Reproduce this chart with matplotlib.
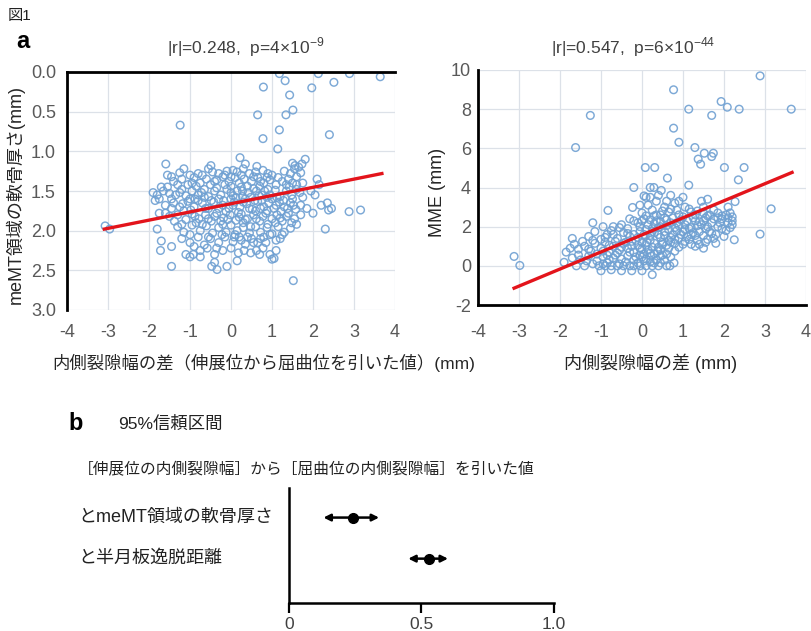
import matplotlib
matplotlib.use('Agg')
import matplotlib.pyplot as plt
import matplotlib.transforms as mtransforms
import numpy as np

plt.rcParams['font.family'] = ['Liberation Sans', 'Noto Sans CJK JP']
plt.rcParams['axes.unicode_minus'] = False
plt.rcParams['mathtext.fontset'] = 'custom'
plt.rcParams['mathtext.rm'] = 'Liberation Sans'

# --- data ---
# panel a-left: gap difference (mm) vs meMT cartilage thickness (mm)
thick_points = [
    # outliers
    (1.18, 0.02), (2.13, 0.02), (2.89, 0.02), (3.64, 0.06), (1.32, 0.11), (2.51, 0.13),
    (0.79, 0.19), (1.97, 0.20), (1.43, 0.29), (1.51, 0.48), (0.65, 0.54), (1.34, 0.54),
    (-1.24, 0.67), (1.18, 0.73), (2.40, 0.79), (0.78, 0.84), (1.14, 0.97), (1.52, 2.63),
    (-3.07, 1.94), (-2.96, 1.98), (2.88, 1.76), (3.16, 1.74), (2.30, 1.98), (2.38, 1.74),
    # top of cluster
    (-1.59, 1.16), (1.81, 1.10), (1.73, 1.16), (0.22, 1.08), (0.35, 1.16), (-0.49, 1.18),
    (0.63, 1.19), (1.56, 1.18),
    (-1.55, 1.30), (-1.25, 1.27), (-1.0, 1.30), (-0.8, 1.28), (-0.55, 1.22), (-0.45, 1.26),
    (-0.3, 1.28), (-0.1, 1.25), (0.05, 1.24), (0.15, 1.26), (0.3, 1.22), (0.45, 1.28),
    (0.6, 1.26), (0.78, 1.24), (0.9, 1.28), (1.3, 1.25), (1.45, 1.28), (1.55, 1.22),
    (1.65, 1.20), (1.7, 1.27), (1.5, 1.15), (1.6, 1.32),
    (-1.7, 1.45), (-1.4, 1.38), (-1.2, 1.35), (-1.05, 1.42), (-0.9, 1.33), (-0.75, 1.40),
    (-0.6, 1.35), (-0.5, 1.42), (-0.35, 1.36), (-0.2, 1.32), (-0.05, 1.38), (0.1, 1.33),
    (0.2, 1.40), (0.32, 1.35), (0.5, 1.38), (0.65, 1.33), (0.8, 1.40), (0.95, 1.36),
    (1.1, 1.42), (1.25, 1.38), (1.4, 1.35), (1.6, 1.42), (1.75, 1.40), (2.1, 1.35),
    (2.15, 1.42), (-1.3, 1.42), (-0.85, 1.44), (0.0, 1.44), (0.4, 1.44), (0.7, 1.44),
    (-1.9, 1.52), (-1.8, 1.55), (-1.65, 1.50), (-1.5, 1.53), (-1.35, 1.55), (-1.2, 1.48),
    (-1.1, 1.56), (-0.95, 1.50), (-0.8, 1.55), (-0.65, 1.48), (-0.55, 1.57), (-0.4, 1.50),
    (-0.25, 1.55), (-0.1, 1.48), (0.05, 1.56), (0.15, 1.50), (0.28, 1.57), (0.42, 1.52),
    (0.55, 1.47), (0.68, 1.56), (0.82, 1.50), (0.95, 1.55), (1.08, 1.49), (1.2, 1.57),
    (1.35, 1.50), (1.48, 1.55), (1.6, 1.48), (1.75, 1.58), (1.95, 1.50), (2.05, 1.55),
    (-1.75, 1.60), (-1.45, 1.60), (-0.3, 1.60), (0.35, 1.60),
    (-1.85, 1.62), (-1.6, 1.68), (-1.4, 1.65), (-1.25, 1.70), (-1.05, 1.63), (-0.9, 1.70),
    (-0.7, 1.65), (-0.55, 1.72), (-0.42, 1.64), (-0.2, 1.68), (-0.05, 1.72), (0.08, 1.64),
    (0.22, 1.70), (0.38, 1.66), (0.52, 1.73), (0.65, 1.63), (0.8, 1.70), (0.92, 1.65),
    (1.05, 1.72), (1.18, 1.64), (1.3, 1.70), (1.45, 1.65), (1.58, 1.73), (1.7, 1.68),
    (1.85, 1.72), (2.2, 1.68), (2.35, 1.65), (2.45, 1.72), (-1.15, 1.75), (0.0, 1.60),
    (0.6, 1.75),
    (-1.75, 1.78), (-1.5, 1.82), (-1.3, 1.80), (-1.1, 1.86), (-0.95, 1.79), (-0.78, 1.85),
    (-0.62, 1.80), (-0.48, 1.88), (-0.35, 1.78), (-0.18, 1.84), (-0.02, 1.80), (0.12, 1.87),
    (0.25, 1.79), (0.4, 1.85), (0.55, 1.80), (0.7, 1.88), (0.85, 1.78), (1.0, 1.85),
    (1.12, 1.80), (1.25, 1.88), (1.4, 1.78), (1.55, 1.85), (1.7, 1.80), (2.0, 1.78),
    (-0.85, 1.90), (0.3, 1.90), (0.9, 1.92),
    (-1.8, 1.98), (-1.3, 1.95), (-1.15, 2.02), (-0.95, 1.93), (-0.75, 2.00), (-0.6, 1.94),
    (-0.45, 2.03), (-0.3, 1.96), (-0.12, 2.02), (0.0, 1.93), (0.15, 2.00), (0.3, 1.96),
    (0.45, 2.03), (0.6, 1.95), (0.72, 2.02), (0.88, 1.96), (1.0, 2.04), (1.15, 1.95),
    (1.3, 2.02), (1.45, 1.97), (1.6, 1.92), (-0.2, 1.92),
    (-1.7, 2.13), (-1.2, 2.10), (-1.0, 2.15), (-0.8, 2.08), (-0.65, 2.18), (-0.5, 2.10),
    (-0.3, 2.15), (-0.15, 2.08), (0.05, 2.14), (0.2, 2.08), (0.35, 2.17), (0.5, 2.10),
    (0.65, 2.15), (0.8, 2.08), (0.95, 2.05), (1.1, 2.12), (1.25, 2.05), (-0.9, 2.20),
    (-1.72, 2.25), (-1.45, 2.20), (-0.92, 2.30), (-0.75, 2.25), (-0.58, 2.22), (-0.4, 2.30),
    (-0.2, 2.25), (0.0, 2.22), (0.18, 2.28), (0.48, 2.28), (0.62, 2.25), (0.78, 2.22),
    (0.95, 2.30), (1.05, 2.35), (1.1, 2.25), (-1.1, 2.30),
    (-1.0, 2.33), (-0.75, 2.33), (-0.47, 2.45), (-0.34, 2.49), (-0.1, 2.45), (1.0, 2.36),
    (-1.45, 2.45), (-0.4, 2.40), (0.15, 2.38),
    (-0.15, 1.42), (0.25, 1.45), (0.58, 1.62), (-0.65, 1.58), (1.0, 1.60), (-1.6, 1.78),
    (0.48, 1.95), (-0.7, 1.92), (0.1, 2.05), (1.35, 1.82), (1.5, 1.60), (-1.0, 1.60),
    (0.9, 1.48), (-0.4, 1.82), (0.75, 1.55),
    # dense core
    (-1.45, 1.32), (-1.15, 1.22), (-0.95, 1.40), (-0.7, 1.30), (-0.4, 1.38), (-0.15, 1.30),
    (0.0, 1.32), (0.25, 1.30), (0.55, 1.32), (0.72, 1.38), (0.88, 1.33), (1.0, 1.30),
    (1.15, 1.33), (1.35, 1.42), (1.5, 1.40),
    (-1.55, 1.45), (-1.25, 1.52), (-0.88, 1.60), (-0.72, 1.52), (-0.48, 1.62), (-0.35, 1.46),
    (-0.18, 1.62), (0.0, 1.52), (0.12, 1.58), (0.28, 1.50), (0.48, 1.58), (0.62, 1.50),
    (0.75, 1.62), (0.88, 1.58), (1.12, 1.58), (1.28, 1.62), (1.42, 1.45), (1.68, 1.52),
    (-1.45, 1.72), (-1.18, 1.66), (-0.98, 1.74), (-0.8, 1.62), (-0.62, 1.72), (-0.3, 1.72),
    (-0.12, 1.76), (0.05, 1.68), (0.18, 1.77), (0.3, 1.64), (0.45, 1.72), (0.72, 1.72),
    (0.88, 1.75), (1.1, 1.68), (1.22, 1.76), (1.38, 1.72), (1.52, 1.68),
    (-1.38, 1.88), (-1.2, 1.92), (-0.88, 1.82), (-0.55, 1.85), (-0.25, 1.88), (-0.08, 1.86),
    (0.2, 1.83), (0.35, 1.86), (0.62, 1.85), (0.78, 1.82), (1.08, 1.90), (1.2, 1.84),
    (1.48, 1.90),
    (-1.0, 2.05), (-0.55, 2.08), (-0.22, 2.05), (0.08, 2.08), (0.25, 2.12), (0.4, 2.08),
    (0.55, 2.15), (0.72, 2.10), (0.85, 2.15), (1.2, 2.10), (-0.35, 2.22), (0.32, 2.25),
    (0.7, 2.30),
]
thick_trend_x = [-3.09, 3.68]
thick_trend_y = [1.98, 1.28]

# panel a-right: gap difference (mm) vs medial meniscus extrusion (mm)
mme_points = [
    # outliers
    (2.88, 9.70), (0.77, 8.99), (1.93, 8.39), (2.08, 8.10), (1.14, 8.00), (2.37, 8.00),
    (3.64, 8.00), (-1.26, 7.68), (1.70, 7.68), (0.77, 7.03), (0.90, 6.31), (-1.62, 6.04),
    (1.29, 6.04), (1.52, 5.75), (1.74, 5.75), (1.70, 5.58), (1.37, 5.45), (1.43, 5.19),
    (0.08, 5.02), (0.31, 5.02), (2.01, 5.02), (2.49, 5.02), (0.62, 4.48), (2.35, 4.39),
    (1.14, 4.12), (-0.20, 4.00), (0.29, 4.00), (0.47, 3.85), (0.05, 3.57), (3.15, 2.91),
    (2.88, 1.62), (2.25, 1.33), (-3.12, 0.48), (-2.98, 0.02), (-0.83, 2.83), (1.60, 3.40),
    (2.27, 3.28), (-0.23, 2.98),
    # floor near 0
    (-1.6, 0.0), (-1.4, 0.0), (-1.05, 0.0), (-0.9, 0.0), (-0.75, 0.0), (-0.6, 0.0),
    (-0.45, 0.0), (-0.3, 0.0), (-0.2, 0.0), (-0.05, 0.0), (0.1, 0.0), (0.25, 0.0),
    (0.4, 0.0), (0.6, 0.0), (0.68, 0.0), (0.78, 0.15), (-1.0, -0.25), (-0.5, -0.25),
    (-0.25, -0.25), (0.0, -0.25), (0.25, -0.45), (-0.75, -0.2),
    (-1.2, 0.1), (-0.85, 0.15), (-0.55, 0.1), (-0.1, 0.15), (0.2, 0.2), (0.45, 0.15),
    (-1.9, 0.18), (-1.7, 0.4), (-1.5, 0.3), (-1.3, 0.5), (-1.1, 0.25), (-0.95, 0.45),
    (-0.8, 0.3), (-0.65, 0.55), (-0.5, 0.35), (-0.35, 0.5), (-0.2, 0.3), (-0.05, 0.55),
    (0.1, 0.35), (0.22, 0.5), (0.35, 0.3), (0.5, 0.55), (0.3, 0.6), (-1.55, 0.55),
    (-1.85, 0.7), (-1.75, 0.9), (-1.65, 1.1), (-1.55, 0.85), (-1.4, 1.0), (-1.25, 0.75),
    (-1.15, 1.15), (-1.0, 0.9), (-0.9, 1.2), (-0.8, 0.7), (-0.7, 1.0), (-0.55, 0.8),
    (-0.45, 1.15), (-0.35, 0.9), (-0.2, 0.7), (-0.1, 1.05), (0.0, 0.85), (0.12, 1.2),
    (0.25, 0.95), (0.38, 0.75), (0.5, 1.1), (0.65, 0.9), (0.8, 1.15), (0.8, 0.75),
    (1.2, 1.1), (1.4, 1.1), (1.5, 0.9), (1.8, 1.15), (-1.7, 1.4), (-1.45, 1.25),
    (-1.3, 0.85), (-1.1, 0.6), (-0.6, 0.65), (-0.25, 1.0), (0.05, 0.6), (0.4, 0.95),
    (0.6, 0.6), (-0.95, 0.75), (0.15, 0.8),
    (-1.3, 1.5), (-1.15, 1.75), (-1.0, 1.35), (-0.85, 1.6), (-0.75, 1.8), (-0.6, 1.4),
    (-0.45, 1.7), (-0.3, 1.5), (-0.15, 1.3), (-0.05, 1.75), (0.08, 1.5), (0.2, 1.3),
    (0.3, 1.7), (0.45, 1.45), (0.55, 1.75), (0.65, 1.3), (0.75, 1.6), (0.9, 1.4),
    (1.0, 1.75), (1.1, 1.5), (1.25, 1.7), (1.35, 1.3), (1.5, 1.55), (1.65, 1.75),
    (1.75, 1.4), (2.05, 1.8), (0.85, 1.8), (-1.2, 2.2), (-0.95, 2.0), (-0.7, 2.0),
    (-0.4, 1.2), (-0.2, 1.6), (0.0, 1.2), (0.1, 1.85), (0.4, 1.95), (0.5, 1.2),
    (0.6, 2.05), (0.7, 1.45), (0.9, 2.05), (1.05, 1.25), (1.2, 1.95), (1.3, 1.55),
    (1.4, 2.25), (1.6, 2.0), (1.7, 1.65), (1.9, 2.2), (2.0, 1.5), (2.2, 2.1),
    (0.3, 2.15), (-0.1, 2.2), (0.2, 1.55), (0.95, 1.6), (1.55, 1.2), (0.75, 2.45),
    (1.25, 2.45),
    (-0.5, 2.1), (-0.35, 1.9), (-0.2, 2.3), (-0.05, 2.0), (0.05, 2.4), (0.15, 2.1),
    (0.25, 1.9), (0.35, 2.3), (0.45, 2.0), (0.55, 2.45), (0.7, 2.2), (0.8, 1.95),
    (0.95, 2.35), (1.05, 2.1), (1.15, 1.9), (1.3, 2.3), (1.45, 2.1), (1.55, 2.45),
    (1.7, 2.2), (1.85, 2.0), (1.95, 2.4), (2.1, 2.2), (2.2, 2.5), (2.15, 1.95),
    (1.0, 2.5), (-0.3, 2.4),
    (0.0, 2.7), (0.15, 3.1), (0.25, 2.85), (0.35, 3.3), (0.45, 2.6), (0.55, 3.0),
    (0.65, 2.75), (0.8, 3.2), (0.9, 2.6), (1.0, 3.5), (1.15, 2.9), (1.3, 2.6),
    (1.5, 3.0), (1.65, 2.6), (1.75, 2.85), (2.1, 3.0), (2.15, 2.7), (0.2, 3.5),
    (0.1, 2.55), (0.7, 3.6),
    (0.3, 2.55), (0.5, 2.8), (0.85, 2.85), (1.05, 3.0), (1.35, 2.8), (1.45, 3.3),
    (1.6, 2.55), (1.95, 2.55), (2.05, 2.6), (0.6, 3.3), (0.9, 3.3), (-0.05, 3.1),
    (0.4, 3.6), (0.2, 4.0), (0.1, 3.5), (1.85, 2.7),
    # dense core
    (-1.35, 0.25), (-0.95, 0.1), (-0.7, 0.4), (-0.4, 0.2), (-0.15, 0.45), (0.05, 0.25),
    (0.3, 0.15), (0.55, 0.3), (-0.85, 0.55), (-0.3, 0.7), (0.0, 0.45), (0.2, 0.65),
    (0.45, 0.5), (0.7, 0.45),
    (-1.2, 1.3), (-0.8, 1.05), (-0.65, 1.25), (-0.5, 0.95), (-0.25, 1.25), (-0.05, 0.9),
    (0.1, 1.05), (0.3, 1.15), (0.45, 0.8), (0.6, 1.05), (0.7, 1.2), (0.9, 0.95),
    (1.0, 1.1), (1.15, 1.35), (1.3, 1.0), (1.6, 1.35),
    (-0.9, 1.45), (-0.7, 1.6), (-0.55, 1.95), (-0.35, 1.65), (-0.1, 1.45), (0.05, 1.6),
    (0.25, 1.75), (0.4, 1.6), (0.55, 1.55), (0.65, 1.85), (0.8, 1.35), (1.05, 1.85),
    (1.2, 1.6), (1.4, 1.75), (1.55, 1.9), (1.8, 1.6), (1.95, 1.9), (2.1, 2.45),
    (0.0, 2.3), (0.2, 2.35), (0.45, 2.25), (0.6, 2.35), (0.85, 2.2), (1.1, 2.3),
    (1.35, 2.05), (1.5, 2.3), (1.75, 2.4), (2.2, 2.3), (0.35, 2.6), (0.7, 2.9),
    (1.2, 2.75), (1.5, 2.7), (1.85, 2.45),
]
mme_trend_x = [-3.12, 3.66]
mme_trend_y = [-1.14, 4.77]

# panel b: 95% confidence intervals of |r|
ci_labels = ['とmeMT領域の軟骨厚さ', 'と半月板逸脱距離']
ci_est = [0.24, 0.53]
ci_low = [0.13, 0.45]
ci_high = [0.34, 0.60]

W, H = 811, 631


def fx(px):
    return px / W


def fy(py):
    return 1 - py / H


fig = plt.figure(figsize=(W / 100, H / 100), dpi=100)

tick_gray = '#595959'
grid_col = '#DCE1E8'
dot_col = '#6FA0D2'
red = '#E3141B'


def style_scatter(ax):
    ax.set_xlim(-4, 4)
    ax.set_xticks(range(-4, 5))
    ax.grid(True, color=grid_col, lw=0.9)
    ax.set_axisbelow(True)
    ax.tick_params(length=0, labelsize=13, colors=tick_gray)
    for s in ax.spines.values():
        s.set_visible(False)


# left scatter
ax1 = fig.add_axes([fx(67), fy(310), 328 / W, 238 / H])
tp = np.array(thick_points)
ax1.scatter(tp[:, 0], tp[:, 1], s=30, facecolors='none', edgecolors=dot_col,
            linewidths=1.05, alpha=0.9, zorder=2)
ax1.plot(thick_trend_x, thick_trend_y, color=red, lw=2.4, zorder=3)
style_scatter(ax1)
ax1.set_ylim(3.0, 0.0)
ax1.set_yticks(np.arange(0, 3.01, 0.5))
ax1.set_yticklabels([f'{v:.1f}' for v in np.arange(0, 3.01, 0.5)])
ax1.spines['top'].set_visible(True)
ax1.spines['left'].set_visible(True)
for k in ['top', 'left']:
    ax1.spines[k].set_color('black')
    ax1.spines[k].set_linewidth(2.0)
ax1.tick_params(axis='x', pad=10)
ax1.tick_params(axis='y', pad=8)

# right scatter
ax2 = fig.add_axes([fx(478), fy(305), 328 / W, 235 / H])
mp = np.array(mme_points)
ax2.scatter(mp[:, 0], mp[:, 1], s=30, facecolors='none', edgecolors=dot_col,
            linewidths=1.05, alpha=0.9, zorder=2)
ax2.plot(mme_trend_x, mme_trend_y, color=red, lw=2.4, zorder=3)
style_scatter(ax2)
ax2.set_ylim(-2, 10)
ax2.set_yticks(range(-2, 11, 2))
for k in ['bottom', 'left']:
    ax2.spines[k].set_visible(True)
    ax2.spines[k].set_color('black')
    ax2.spines[k].set_linewidth(2.0)
ax2.tick_params(axis='x', pad=14)
ax2.tick_params(axis='y', pad=5)

# titles and axis labels
title_col = '#404040'
fig.text(fx(246), fy(47), '|r|=0.248,  p=4×10$^{\\mathregular{-9}}$', ha='center', va='center',
         fontsize=12.5, color=title_col)
fig.text(fx(633), fy(47), '|r|=0.547,  p=6×10$^{\\mathregular{-44}}$', ha='center', va='center',
         fontsize=12.5, color=title_col)
lab_col = '#262626'
fig.text(fx(264), fy(363), '内側裂隙幅の差（伸展位から屈曲位を引いた値）(mm)', ha='center',
         va='center', fontsize=12.5, color=lab_col)
fig.text(fx(651), fy(363), '内側裂隙幅の差 (mm)', ha='center', va='center', fontsize=13,
         color=lab_col)
fig.text(fx(15), fy(195), 'meMT領域の軟骨厚さ(mm)', ha='center', va='center', rotation=90,
         fontsize=13, color=lab_col)
fig.text(fx(438), fy(192), 'MME (mm)', ha='center', va='center', rotation=90, fontsize=13,
         color=lab_col)

fig.text(fx(8), fy(16), '図1', ha='left', va='center', fontsize=11, color='#222222')
fig.text(fx(16), fy(41), 'a', ha='left', va='center', fontsize=17, fontweight='bold')
fig.text(fx(68), fy(424), 'b', ha='left', va='center', fontsize=17, fontweight='bold')
fig.text(fx(118), fy(424), '95%信頼区間', ha='left', va='center', fontsize=12.5, color='#222222')
fig.text(fx(78), fy(470), '［伸展位の内側裂隙幅］から［屈曲位の内側裂隙幅］を引いた値',
         ha='left', va='center', fontsize=11.3, color='#222222')

# panel b forest plot
ax3 = fig.add_axes([fx(289), fy(603), 265 / W, 115 / H])
rows = np.arange(len(ci_labels))[::-1]
for yv, est, lo, hi in zip(rows, ci_est, ci_low, ci_high):
    ax3.annotate('', xy=(lo, yv), xytext=(hi, yv),
                 arrowprops=dict(arrowstyle='<|-|>', color='black', lw=1.8,
                                 mutation_scale=10, shrinkA=0, shrinkB=0))
    ax3.plot(est, yv, 'o', color='black', ms=7, zorder=3)
trans = mtransforms.blended_transform_factory(fig.transFigure, ax3.transData)
for yv, lab in zip(rows, ci_labels):
    ax3.text(fx(78), yv, lab, transform=trans, ha='left', va='center', fontsize=13,
             color='#222222')
ax3.set_xlim(0, 1.0)
ax3.set_ylim(-1.08, 1.72)
ax3.set_xticks([0, 0.5, 1.0])
ax3.set_xticklabels(['0', '0.5', '1.0'])
ax3.set_yticks([])
for k in ['top', 'right']:
    ax3.spines[k].set_visible(False)
for k in ['bottom', 'left']:
    ax3.spines[k].set_linewidth(1.8)
ax3.tick_params(axis='x', length=7, width=1.6, labelsize=12.5, colors='#404040', pad=3)
ax3.tick_params(axis='x', color='black')

fig.savefig('out.png', dpi=100)
